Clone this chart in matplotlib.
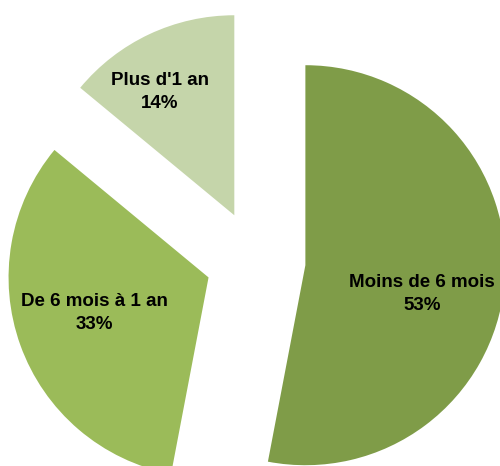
import numpy as np
import matplotlib.pyplot as plt

# DATA ------------------------------------------------------------------------
labels = ['Moins de 6 mois', 'De 6 mois à 1 an', "Plus d'1 an"]
values = [53, 33, 14]
colors = ['#7f9c48', '#9bbb59', '#c5d5aa']

# PLOT ------------------------------------------------------------------------
fig = plt.figure(figsize=(5.0, 4.66), dpi=100)
ax = fig.add_axes([0, 0, 1, 1])

# explode is absolute (data units), radius 200 -> offset of 50
wedges, texts, autotexts = ax.pie(
    values, colors=colors, startangle=90, counterclock=False,
    explode=[50, 50, 50], radius=200, center=(255.6, 205.5),
    autopct='%d%%', pctdistance=0.6, frame=True,
    textprops=dict(family='Liberation Sans', fontweight='bold',
                   fontsize=13.5, color='black'))

# place "label\npct" like Excel data labels
dist = [0.6, 0.6, 0.72]
shift = [-8.5, -2.5, 6]
for w, t, lab, v, d, s in zip(wedges, autotexts, labels, values, dist, shift):
    ang = np.deg2rad((w.theta1 + w.theta2) / 2 + s)
    cx, cy = w.center
    t.set_position((cx + d * w.r * np.cos(ang), cy + d * w.r * np.sin(ang)))
    t.set_text(lab + '\n' + '%d%%' % v)
    t.set_ha('center')
    t.set_va('center')
    t.set_linespacing(1.45)

ax.set_xlim(0, 500)
ax.set_ylim(0, 466)
ax.set_aspect('equal')
ax.axis('off')

fig.savefig('out.png', dpi=100, facecolor='white')
